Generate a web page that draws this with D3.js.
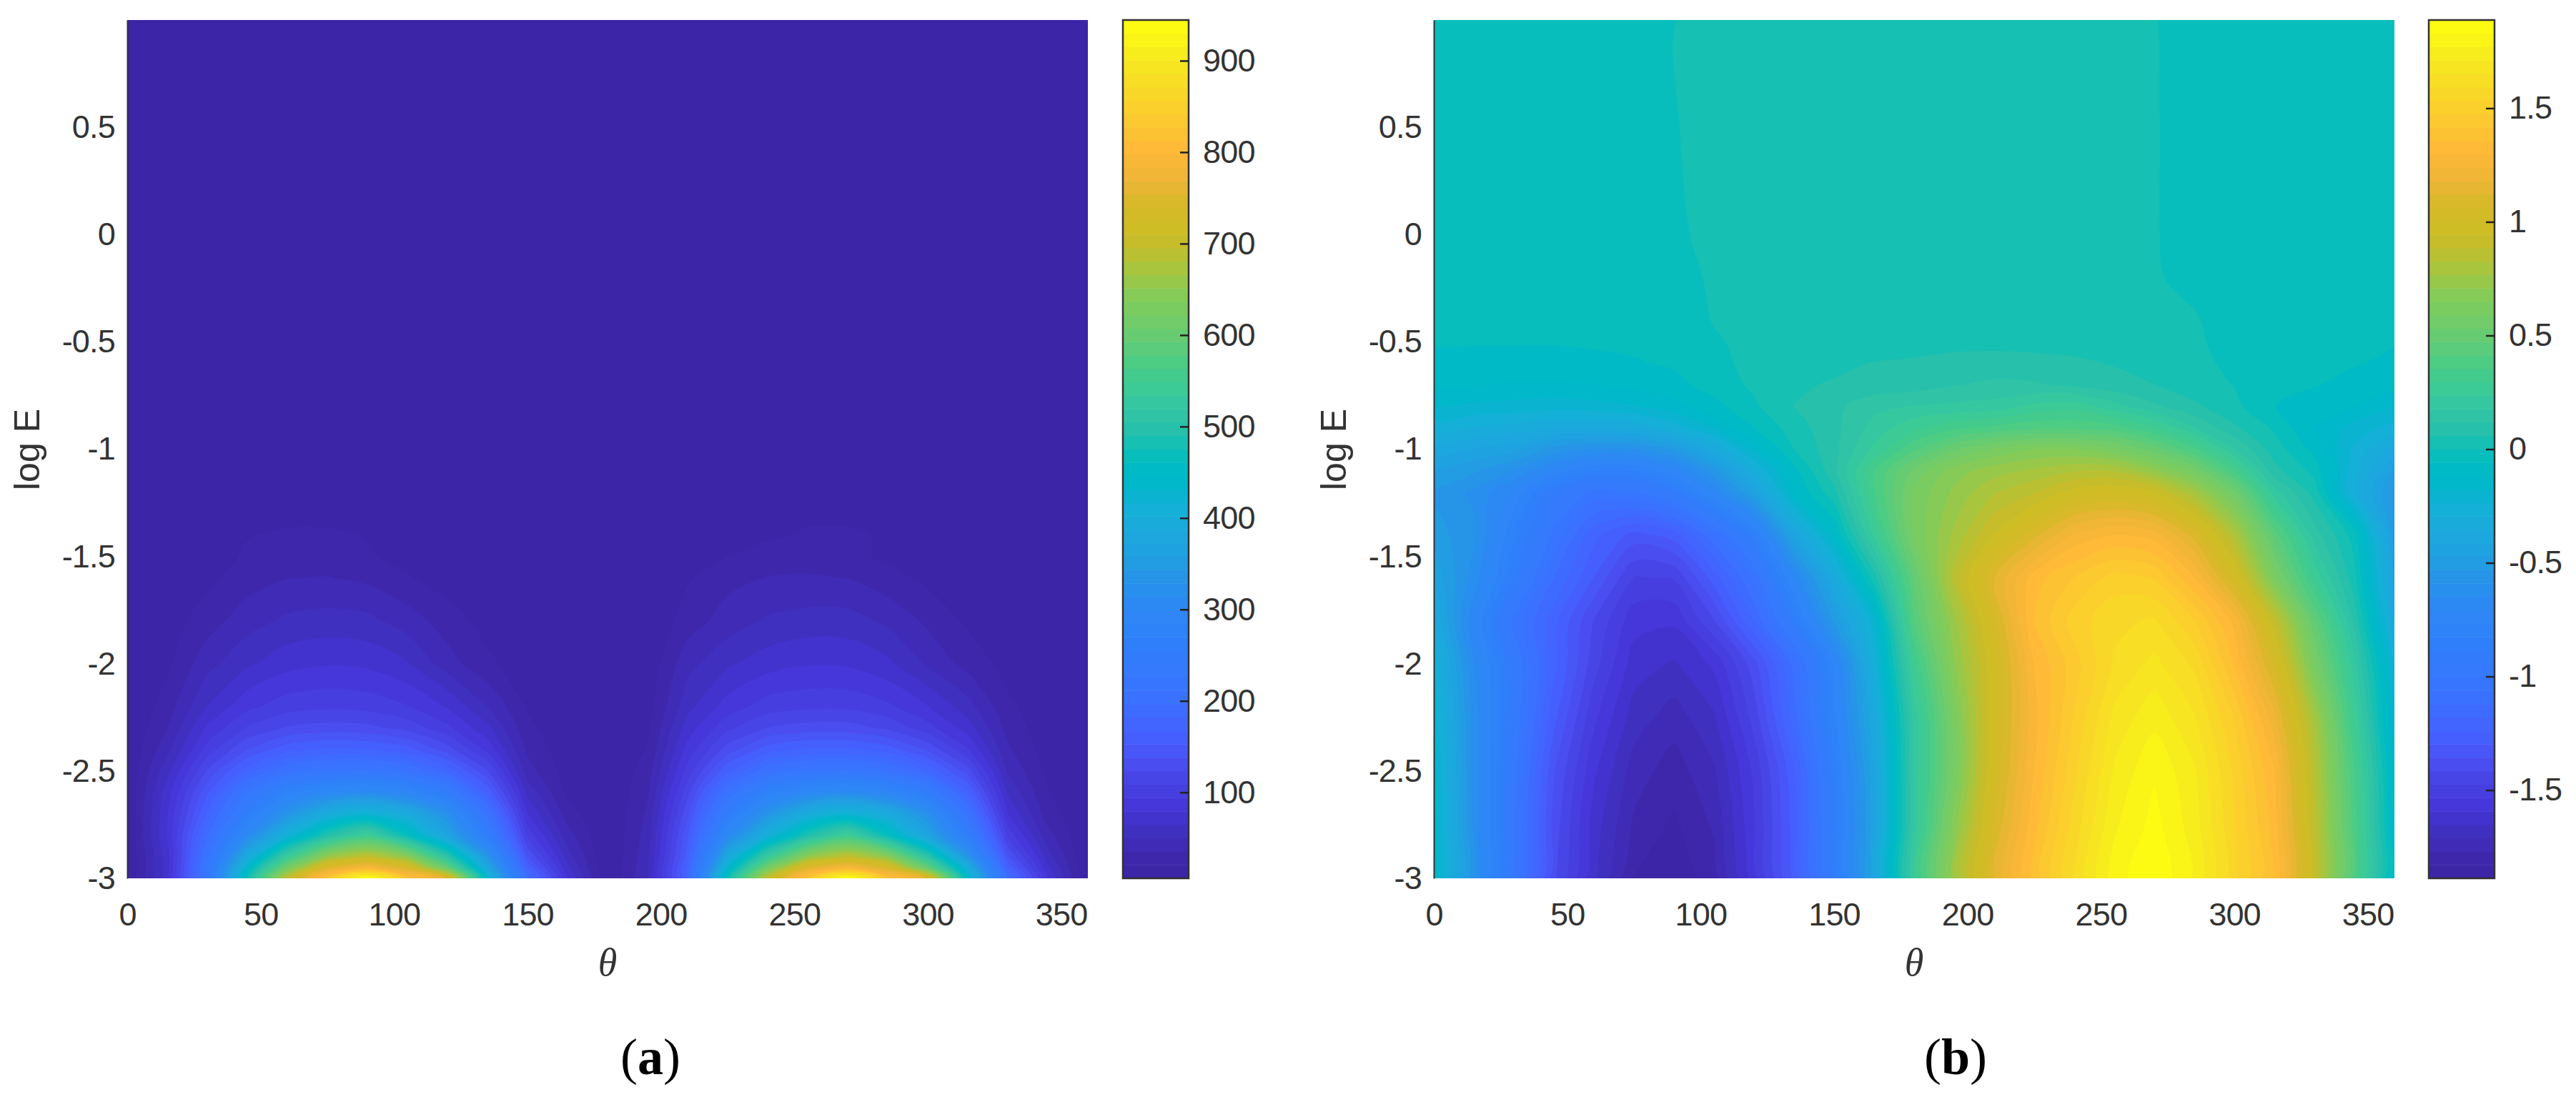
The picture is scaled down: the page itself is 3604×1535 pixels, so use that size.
<!DOCTYPE html>
<html><head><meta charset="utf-8">
<script src="https://cdn.jsdelivr.net/npm/d3@7"></script>
<style>html,body{margin:0;padding:0;background:#fff}svg{display:block}</style>
</head><body><svg id="chart" width="3604" height="1535"></svg>
<script>
const thetaColumns = [0,15,30,45,60,75,90,105,120,135,150,165,180,195,210,225,240,255,270,285,300,315,330,345,360];
const logERowsA = [-3,-2.95,-2.9,-2.8,-2.7,-2.6,-2.5,-2.4,-2.3,-2.2,-2,-1.8,-1.6,-1.5,-1.4,-1.3,-1.2,-1,-0.5,1];
const gridA = [
[5,70,225,470,700,830,945,820,750,430,190,80,5,50,170,470,700,830,945,820,750,440,190,80,5],
[5,72,225,435,620,750,790,740,600,380,165,68,5,48,170,425,620,750,790,740,600,400,165,68,5],
[5,72,215,390,540,660,700,650,510,340,140,58,5,46,160,385,535,655,700,650,510,340,140,58,5],
[6,80,195,310,410,495,550,465,370,260,105,42,5,42,150,305,405,490,550,465,370,260,105,40,6],
[6,78,170,260,335,395,420,390,325,215,80,28,5,38,135,255,335,395,420,390,325,215,80,28,6],
[7,72,150,225,280,305,315,295,250,165,60,18,6,33,118,212,275,305,315,295,250,170,62,22,7],
[7,60,125,175,210,224,228,212,178,125,42,14,6,28,100,165,208,224,228,212,180,130,48,17,7],
[6,45,100,138,162,170,168,158,130,90,32,11,6,22,85,130,160,170,170,160,135,95,38,13,6],
[6,35,82,110,125,130,128,118,98,68,25,9,6,18,72,105,124,130,130,120,100,72,30,11,6],
[6,28,65,90,102,105,103,95,78,50,19,8,5,14,60,86,101,105,105,97,80,56,24,10,6],
[6,18,45,62,74,78,76,66,42,24,12,7,5,10,45,62,73,78,77,68,48,30,15,8,6],
[5,14,28,44,53,56,54,43,28,15,9,6,5,7,28,42,52,56,56,47,32,18,10,6,5],
[5,8,17,28,35,36,32,22,14,9,6,5,5,8,19,31,36,37,35,26,17,11,7,5,5],
[5,7,13,23,28,27,22,17,12,8,6,5,5,6,14,21,28,29,25,18,13,9,6,5,5],
[5,6,11,20,23,23,20,15,10,7,5,5,5,5,7,12,18,23,23,19,14,10,7,5,5],
[5,6,9,14,16,16,14,12,8,6,5,5,5,5,6,9,13,17,17,14,11,8,6,5,5],
[5,5,7,10,11,11,10,9,7,6,5,5,5,5,5,7,9,11,12,11,9,7,5,5,5],
[5,5,6,7,8,8,8,7,6,5,5,5,5,5,5,6,7,8,8,8,7,6,5,5,5],
[5,5,5,6,6,6,6,6,5,5,5,5,5,5,5,5,6,6,6,6,5,5,5,5,5],
[5,5,5,5,5,5,5,5,5,5,5,5,5,5,5,5,5,5,5,5,5,5,5,5,5]
];
const logERowsB = [-3,-2.75,-2.5,-2.25,-2,-1.8,-1.6,-1.4,-1.2,-1.1,-1,-0.9,-0.8,-0.7,-0.6,-0.5,-0.4,-0.2,0,0.5,1];
const gridB = [
[-.12,-.6,-1.0,-1.4,-1.64,-1.83,-1.87,-1.8,-1.56,-1.28,-.9,-.43,.25,.75,1.12,1.38,1.6,1.8,1.88,1.76,1.55,1.36,.9,.38,-.12],
[-.13,-.61,-.99,-1.38,-1.62,-1.78,-1.84,-1.76,-1.54,-1.27,-.87,-.44,.2,.68,1.07,1.34,1.56,1.76,1.85,1.74,1.54,1.33,.88,.38,-.13],
[-.15,-.62,-.98,-1.35,-1.58,-1.74,-1.80,-1.72,-1.52,-1.25,-.85,-.42,.2,.6,1.02,1.3,1.52,1.72,1.82,1.72,1.52,1.3,.85,.35,-.15],
[-.2,-.62,-.95,-1.28,-1.52,-1.68,-1.74,-1.66,-1.45,-1.15,-.78,-.36,.2,.62,1.0,1.28,1.48,1.67,1.75,1.66,1.47,1.2,.78,.28,-.2],
[-.25,-.65,-.95,-1.22,-1.45,-1.62,-1.66,-1.58,-1.38,-1.1,-.75,-.28,.3,.7,1.0,1.3,1.45,1.6,1.67,1.58,1.35,1.05,.6,.2,-.25],
[-.35,-.7,-1.02,-1.22,-1.42,-1.57,-1.58,-1.42,-1.18,-.88,-.52,-.2,.42,.75,1.05,1.36,1.5,1.58,1.6,1.48,1.28,.9,.48,.1,-.35],
[-.43,-.62,-.88,-1.12,-1.3,-1.48,-1.47,-1.27,-1.05,-.7,-.35,.03,.48,.85,1.12,1.33,1.42,1.5,1.47,1.3,1.02,.62,.28,.02,-.43],
[-.5,-.58,-.82,-1.02,-1.22,-1.32,-1.27,-1.08,-.85,-.42,-.12,.25,.6,.78,.95,1.1,1.25,1.3,1.27,1.1,.82,.45,.15,-.03,-.5],
[-.55,-.6,-.72,-.92,-1.02,-1.0,-.9,-.7,-.45,-.12,.04,.35,.6,.72,.82,.88,.97,1.0,.95,.78,.55,.2,.03,-.3,-.55],
[-.47,-.52,-.6,-.72,-.82,-.82,-.72,-.55,-.3,-.08,.1,.35,.55,.68,.74,.78,.82,.82,.72,.58,.35,.08,-.02,-.28,-.47],
[-.38,-.42,-.45,-.55,-.6,-.6,-.52,-.35,-.16,0,.1,.25,.4,.52,.6,.65,.65,.6,.5,.37,.18,.03,-.08,-.25,-.38],
[-.26,-.3,-.32,-.35,-.36,-.34,-.27,-.17,-.06,.03,.1,.2,.28,.34,.37,.4,.4,.38,.3,.18,.07,-.01,-.12,-.2,-.26],
[-.18,-.19,-.2,-.21,-.2,-.18,-.14,-.08,-.01,.06,.1,.16,.18,.19,.2,.25,.27,.2,.13,.07,.015,-.058,-.09,-.12,-.18],
[-.105,-.115,-.125,-.125,-.12,-.105,-.08,-.03,.01,.05,.065,.075,.09,.115,.13,.125,.105,.08,.06,.025,-.002,-.03,-.055,-.08,-.105],
[-.07,-.078,-.08,-.08,-.075,-.065,-.05,-.012,.012,.025,.045,.062,.07,.08,.085,.08,.07,.055,.035,.012,-.01,-.025,-.04,-.055,-.07],
[-.055,-.055,-.055,-.055,-.05,-.045,-.035,-.004,.01,.018,.02,.025,.03,.04,.04,.038,.035,.03,.022,.005,-.012,-.02,-.03,-.045,-.055],
[-.04,-.04,-.04,-.04,-.035,-.03,-.022,.002,.01,.014,.016,.02,.022,.025,.025,.024,.022,.018,.012,.002,-.01,-.015,-.02,-.03,-.04],
[-.03,-.03,-.03,-.03,-.025,-.02,-.01,.004,.01,.012,.014,.015,.016,.016,.016,.015,.014,.012,.002,-.006,-.01,-.015,-.02,-.025,-.03],
[-.025,-.025,-.025,-.022,-.02,-.015,-.004,.006,.01,.012,.013,.014,.014,.014,.014,.013,.012,.008,.001,-.006,-.012,-.016,-.02,-.022,-.025],
[-.02,-.02,-.02,-.018,-.016,-.012,-.001,.006,.009,.01,.011,.012,.012,.012,.012,.011,.01,.007,.001,-.006,-.01,-.014,-.016,-.018,-.02],
[-.018,-.018,-.018,-.016,-.014,-.01,-.0005,.005,.008,.009,.01,.011,.011,.011,.011,.01,.009,.006,.0005,-.005,-.009,-.012,-.014,-.016,-.018]
];
const colorbarRangeA = [6, 944.5];
const colorbarRangeB = [-1.888, 1.888];
const levelCount = 64;
const xTicks = [0,50,100,150,200,250,300,350];
const yTicks = [-3,-2.5,-2,-1.5,-1,-0.5,0,0.5];
const cbTicksA = [100,200,300,400,500,600,700,800,900];
const cbTicksB = [-1.5,-1,-0.5,0,0.5,1,1.5];
const paletteStops = [0,.027,.055,.082,.105,.138,.166,.212,.276,.317,.36,.388,.424,.46,.4766,.499,.528,.554,.596,.634,.674,.715,.742,.757,.785,.81,.846,.907,.953,1];
const paletteColors = ["#3b24a4","#3e28ac","#4030c0","#4535d8","#473fe0","#4a50f2","#4560ff","#3a72ff","#2f80fa","#2d88f5","#2498e5","#1da6df","#18aeda","#00b8ca","#00bac6","#0cc0b8","#2cc0a8","#35c8a0","#48cc88","#68cc70","#80cc5c","#aec43a","#c7bd2a","#cfbd25","#d6b828","#ebb535","#ffb838","#fad42a","#f5e81e","#ffff10"];

const palette = d3.scaleLinear().domain(paletteStops).range(paletteColors).interpolate(d3.interpolateRgb);
const levelColor = i => palette((i + 0.5) / levelCount);

const svg = d3.select("#chart");
const TOP = 28, BOTTOM = 1229;
const OUTSIDE = 30;
const INK = "#333";
const SANS = "'Liberation Sans', Arial, sans-serif";
const SERIF = "'Liberation Serif', 'Times New Roman', serif";

function panel(cfg) {
  const x = d3.scaleLinear().domain([0,360]).range([cfg.left, cfg.right]);
  const y = d3.scaleLinear().domain([-3,1]).range([BOTTOM, TOP]);
  const g = svg.append("g");
  const n = thetaColumns.length, m = cfg.rows.length;
  const colToTheta = d3.scaleLinear().domain(d3.range(n)).range(thetaColumns).clamp(true);
  const rowToLogE = d3.scaleLinear().domain(d3.range(m)).range(cfg.rows).clamp(true);
  const [vmin, vmax] = cfg.range;
  const step = (vmax - vmin) / levelCount;
  const levels = d3.range(levelCount).map(i => vmin + i * step);
  // grid coordinates from d3.contours; the border ring runs just outside the clip
  const px = c => c < 0.5 ? cfg.left - OUTSIDE : c > n - 0.5 ? cfg.right + OUTSIDE : x(colToTheta(c - 0.5));
  const py = c => c < 0.5 ? BOTTOM + OUTSIDE : c > m - 0.5 ? TOP - OUTSIDE : y(rowToLogE(c - 0.5));
  const ringLine = d3.line().x(p => px(p[0])).y(p => py(p[1])).curve(d3.curveCatmullRomClosed.alpha(0.5));
  const contourPath = d => d.coordinates.map(poly => poly.map(ring => ringLine(ring.slice(0, -1))).join("")).join("");
  const contours = d3.contours().size([n, m]).thresholds(levels)(cfg.grid.flat());
  const clipId = "clip" + cfg.name;
  svg.append("clipPath").attr("id", clipId).append("rect")
    .attr("x", cfg.left).attr("y", TOP).attr("width", cfg.right - cfg.left).attr("height", BOTTOM - TOP);
  const field = g.append("g").attr("clip-path", `url(#${clipId})`);
  field.append("rect").attr("x", cfg.left).attr("y", TOP)
    .attr("width", cfg.right - cfg.left).attr("height", BOTTOM - TOP).attr("fill", levelColor(0));
  field.selectAll("path").data(contours.slice(1)).join("path")
    .attr("d", contourPath).attr("fill-rule", "evenodd").attr("fill", (d, i) => levelColor(i + 1));

  const style = sel => sel.selectAll("text")
    .attr("font-family", SANS).attr("font-size", 45).attr("fill", INK).attr("letter-spacing", -0.8);

  g.append("g").attr("transform", `translate(0,${BOTTOM})`)
    .call(d3.axisBottom(x).tickValues(xTicks).tickFormat(String).tickSize(0).tickPadding(34))
    .call(a => a.select(".domain").remove()).call(style);
  g.append("g").attr("transform", `translate(${cfg.left},0)`)
    .call(d3.axisLeft(y).tickValues(yTicks).tickFormat(String).tickSize(0).tickPadding(17))
    .call(a => a.select(".domain").attr("stroke", INK).attr("stroke-width", 2)).call(style);

  g.append("text").attr("transform", `translate(${cfg.yLabelX},629) rotate(-90)`)
    .attr("text-anchor", "middle").attr("font-family", SANS).attr("font-size", 50).attr("fill", INK).text("log E");
  g.append("text").attr("x", (cfg.left + cfg.right) / 2).attr("y", 1365)
    .attr("text-anchor", "middle").attr("font-family", SERIF).attr("font-style", "italic")
    .attr("font-size", 54).attr("fill", INK).text("θ");

  const cap = g.append("text").attr("x", cfg.capX).attr("y", 1503).attr("text-anchor", "middle")
    .attr("font-family", SERIF).attr("font-size", 72).attr("fill", "#000");
  cap.append("tspan").text("(");
  cap.append("tspan").attr("font-weight", "bold").text(cfg.name);
  cap.append("tspan").text(")");

  const cb = d3.scaleLinear().domain(cfg.range).range([BOTTOM, TOP]);
  const cg = g.append("g");
  cg.selectAll("rect").data(d3.range(levelCount)).join("rect")
    .attr("x", cfg.cbLeft).attr("width", cfg.cbRight - cfg.cbLeft)
    .attr("y", i => cb(vmin + (i + 1) * step)).attr("height", (BOTTOM - TOP) / levelCount + 0.5)
    .attr("fill", levelColor);
  g.append("rect").attr("x", cfg.cbLeft).attr("y", TOP)
    .attr("width", cfg.cbRight - cfg.cbLeft).attr("height", BOTTOM - TOP)
    .attr("fill", "none").attr("stroke", INK).attr("stroke-width", 2.5);
  g.append("g").attr("transform", `translate(${cfg.cbRight},0)`)
    .call(d3.axisRight(cb).tickValues(cfg.cbTicks).tickFormat(String).tickSize(-12).tickPadding(20))
    .call(a => a.select(".domain").remove())
    .call(a => a.selectAll("line").attr("stroke", "#222").attr("stroke-width", 2.5))
    .call(style);
}

panel({ name:"a", left:178, right:1522, cbLeft:1571, cbRight:1663, yLabelX:55, capX:910,
        rows:logERowsA, grid:gridA, range:colorbarRangeA, cbTicks:cbTicksA });
panel({ name:"b", left:2006, right:3350, cbLeft:3398, cbRight:3490, yLabelX:1883, capX:2736,
        rows:logERowsB, grid:gridB, range:colorbarRangeB, cbTicks:cbTicksB });
</script></body></html>
